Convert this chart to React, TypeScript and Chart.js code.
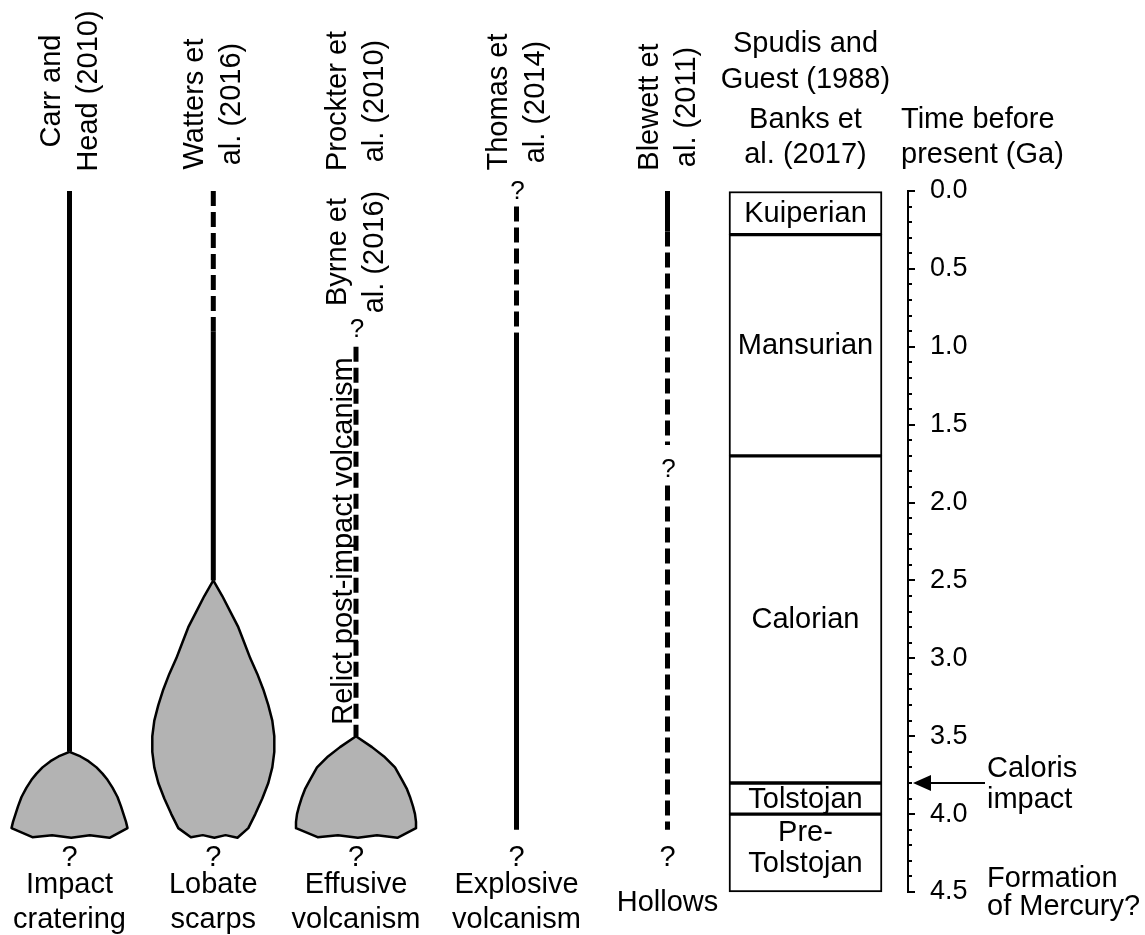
import React, { useEffect, useRef } from 'react';
import { Chart, registerables } from 'chart.js';

Chart.register(...registerables);

// ---------------- data ----------------
const ACTIVITIES = ['Impact\ncratering', 'Lobate\nscarps', 'Effusive\nvolcanism', 'Explosive\nvolcanism', 'Hollows'];
const SOURCES = ['Carr and\nHead (2010)', 'Watters et\nal. (2016)', 'Prockter et\nal. (2010)', 'Thomas et\nal. (2014)', 'Blewett et\nal. (2011)'];
const RELICT_SOURCE = 'Byrne et\nal. (2016)';
const RELICT_LABEL = 'Relict post-impact volcanism';
const STRAT_SOURCES = ['Spudis and\nGuest (1988)', 'Banks et\nal. (2017)'];
const AXIS_TITLE = 'Time before\npresent (Ga)';

const ERAS = ['Kuiperian', 'Mansurian', 'Calorian', 'Tolstojan', 'Pre-\nTolstojan'];
const ERA_START = [0, 0.28, 1.7, 3.8, 4.0];
const ERA_END = [0.28, 1.7, 3.8, 4.0, 4.5];

const TIME_MIN = 0;
const TIME_MAX = 4.5;
const MAJOR_STEP = 0.5;
const MINOR_STEP = 0.1;

// [activity index, from Ga, to Ga]
const SOLID_SEGMENTS: [number, number, number][] = [
  [0, 0, 3.6],
  [1, 0.9, 2.5],
  [3, 0.91, 4.1],
  [4, 0, 0.26],
];
const DASHED_SEGMENTS: [number, number, number][] = [
  [1, 0, 0.9],
  [2, 1.0, 3.5],
  [3, 0.1, 0.91],
  [4, 0.26, 1.63],
  [4, 1.89, 4.1],
];
// [activity index, Ga] for uncertainty marks along the lines
const QUERY_MARKS: [number, number][] = [
  [2, 0.88],
  [3, -0.01],
  [4, 1.78],
];
const END_QUERY_GA = 4.27;

// intensity envelopes: time (Ga) and half-width
const IMPACT_T = [3.6, 3.63, 3.66, 3.7, 3.74, 3.78, 3.83, 3.89, 3.95, 4.0, 4.05, 4.09];
const IMPACT_W = [0, 0.11, 0.19, 0.27, 0.33, 0.38, 0.43, 0.48, 0.515, 0.54, 0.565, 0.58];
const SCARPS_T = [2.5, 2.6, 2.7, 2.8, 2.9, 3.0, 3.1, 3.2, 3.3, 3.4, 3.5, 3.6, 3.7, 3.8, 3.9, 4.0, 4.09];
const SCARPS_W = [0, 0.09, 0.17, 0.25, 0.31, 0.37, 0.44, 0.5, 0.55, 0.59, 0.61, 0.61, 0.59, 0.55, 0.49, 0.42, 0.35];
const EFFUSIVE_T = [3.5, 3.57, 3.63, 3.7, 3.78, 3.84, 3.89, 3.95, 4.0, 4.05, 4.09];
const EFFUSIVE_W = [0, 0.16, 0.28, 0.39, 0.46, 0.51, 0.54, 0.57, 0.59, 0.6, 0.6];

const CALORIS_GA = 3.8;
const EVENT_CALORIS = 'Caloris\nimpact';
const EVENT_FORMATION = 'Formation\nof Mercury?';

// ---------------- layout / style ----------------
const W = 1145;
const H = 935;
const COL_X = [0.695, 2.133, 3.56, 5.165, 6.675];
const STRAT_X = 8.055;
const X_MAX = 9.08;
const WAVE_X = [-1, -0.64, -0.3, 0.03, 0.35, 0.69, 1];
const WAVE_DT = [0, 0.058, 0.045, 0.062, 0.045, 0.062, 0];
const FAMILY = "'Liberation Sans', Arial, Helvetica, sans-serif";
const FS = 29;
const GREY = '#b3b3b3';

function envelope(center: number, ts: number[], ws: number[]) {
  const pts: { x: number; y: number }[] = [];
  for (let i = 0; i < ts.length; i++) pts.push({ x: center - ws[i], y: ts[i] });
  const n = ts.length - 1;
  for (let k = 1; k < WAVE_X.length - 1; k++) pts.push({ x: center + WAVE_X[k] * ws[n], y: ts[n] + WAVE_DT[k] });
  for (let i = n; i >= 0; i--) pts.push({ x: center + ws[i], y: ts[i] });
  return pts;
}

function lines(ctx: CanvasRenderingContext2D, text: string, x: number, y0: number, lh: number) {
  text.split('\n').forEach((ln, i) => ctx.fillText(ln, x, y0 + i * lh));
}

function rotated(ctx: CanvasRenderingContext2D, text: string, cx: number, cy: number, offs: number[]) {
  ctx.save();
  ctx.translate(cx, cy);
  ctx.rotate(-Math.PI / 2);
  ctx.textAlign = 'center';
  ctx.textBaseline = 'alphabetic';
  text.split('\n').forEach((ln, i) => ctx.fillText(ln, 0, offs[i]));
  ctx.restore();
}

const decorPlugin = {
  id: 'decor',
  afterDraw(chart: any) {
    const ctx: CanvasRenderingContext2D = chart.ctx;
    const xs = chart.scales.x;
    const ys = chart.scales.y;
    const X = (v: number) => xs.getPixelForValue(v);
    const Y = (v: number) => ys.getPixelForValue(v);
    ctx.save();
    ctx.fillStyle = '#000';
    ctx.strokeStyle = '#000';

    // axis tick marks (major + minor)
    ctx.lineWidth = 2;
    const nMinor = Math.round((TIME_MAX - TIME_MIN) / MINOR_STEP);
    const per = Math.round(MAJOR_STEP / MINOR_STEP);
    for (let i = 0; i <= nMinor; i++) {
      const y = Math.round(Y(TIME_MIN + i * MINOR_STEP));
      const len = i % per === 0 ? 7 : 4;
      ctx.beginPath();
      ctx.moveTo(ys.left, y);
      ctx.lineTo(ys.left + len, y);
      ctx.stroke();
    }

    ctx.font = `${FS}px ${FAMILY}`;
    ctx.textBaseline = 'alphabetic';

    // era labels inside the column
    const meta = chart.getDatasetMeta(0);
    ctx.textAlign = 'center';
    ctx.textBaseline = 'middle';
    meta.data.forEach((bar: any, i: number) => {
      const cy = (bar.y + bar.base) / 2;
      const parts = ERAS[i].split('\n');
      const lh = 31;
      const y0 = cy - ((parts.length - 1) * lh) / 2 - (parts.length > 1 ? 6 : 0);
      parts.forEach((p, k) => ctx.fillText(p, bar.x, y0 + k * lh + 1));
    });
    ctx.textBaseline = 'alphabetic';

    // column headers above the stratigraphy
    const sx = X(STRAT_X);
    lines(ctx, STRAT_SOURCES[0], sx, 52, 36);
    lines(ctx, STRAT_SOURCES[1], sx, 128, 35);
    ctx.textAlign = 'left';
    lines(ctx, AXIS_TITLE, 901, 128, 35);

    // activity labels under the columns
    ctx.textAlign = 'center';
    ACTIVITIES.forEach((a, i) => {
      const cx = X(COL_X[i]);
      const n = a.split('\n').length;
      lines(ctx, a, cx, n > 1 ? 893 : 911, 35);
      ctx.fillText('?', cx, Y(END_QUERY_GA) + 10);
    });

    // rotated reference labels
    const refCenters = [91, 104, 101, 102, 107];
    SOURCES.forEach((s, i) => rotated(ctx, s, X(COL_X[i]), refCenters[i], [-10, 27]));
    rotated(ctx, RELICT_SOURCE, X(COL_X[2]), 252, [-10, 27]);
    rotated(ctx, RELICT_LABEL, X(COL_X[2]), 541, [-4]);

    // query marks on the lines
    ctx.font = `${FS - 3}px ${FAMILY}`;
    ctx.textAlign = 'center';
    ctx.textBaseline = 'middle';
    QUERY_MARKS.forEach(([c, t]) => ctx.fillText('?', X(COL_X[c]) + 1, Y(t) + 2));
    ctx.textBaseline = 'alphabetic';

    // events on the right
    ctx.font = `${FS}px ${FAMILY}`;
    ctx.textAlign = 'left';
    const cy = Y(CALORIS_GA);
    lines(ctx, EVENT_CALORIS, 987, cy - 6, 31);
    lines(ctx, EVENT_FORMATION, 987, Y(TIME_MAX) - 5, 28);

    // Caloris arrow
    ctx.lineWidth = 2;
    ctx.beginPath();
    ctx.moveTo(928, cy);
    ctx.lineTo(985, cy);
    ctx.stroke();
    ctx.beginPath();
    ctx.moveTo(ys.left + 5, cy);
    ctx.lineTo(ys.left + 23, cy - 8);
    ctx.lineTo(ys.left + 23, cy + 8);
    ctx.closePath();
    ctx.fill();

    ctx.restore();
  },
};

export default function App() {
  const ref = useRef<HTMLCanvasElement>(null);
  useEffect(() => {
    const canvas = ref.current;
    if (!canvas) return;
    const datasets: any[] = [];
    datasets.push({
      type: 'bar',
      label: 'eras',
      data: ERAS.map((_, i) => ({ x: STRAT_X, y: [ERA_START[i], ERA_END[i]] })),
      backgroundColor: '#ffffff',
      borderColor: '#000000',
      borderWidth: 2,
      borderSkipped: false,
      barThickness: 153,
      grouped: false,
      clip: false,
    });
    const blobs: [number, number[], number[]][] = [
      [COL_X[0], IMPACT_T, IMPACT_W],
      [COL_X[1], SCARPS_T, SCARPS_W],
      [COL_X[2], EFFUSIVE_T, EFFUSIVE_W],
    ];
    blobs.forEach(([c, t, w]) =>
      datasets.push({
        type: 'line',
        data: envelope(c, t, w),
        borderColor: '#000',
        borderWidth: 2.5,
        borderJoinStyle: 'round',
        backgroundColor: GREY,
        fill: 'shape',
        pointRadius: 0,
        tension: 0,
        clip: false,
      })
    );
    SOLID_SEGMENTS.forEach(([c, a, b]) =>
      datasets.push({
        type: 'line',
        data: [{ x: COL_X[c], y: a }, { x: COL_X[c], y: b }],
        borderColor: '#000',
        borderWidth: 5,
        borderCapStyle: 'butt',
        pointRadius: 0,
        fill: false,
        clip: false,
      })
    );
    DASHED_SEGMENTS.forEach(([c, a, b]) =>
      datasets.push({
        type: 'line',
        data: [{ x: COL_X[c], y: a }, { x: COL_X[c], y: b }],
        borderColor: '#000',
        borderWidth: 5,
        borderDash: [15, 6],
        borderCapStyle: 'butt',
        pointRadius: 0,
        fill: false,
        clip: false,
      })
    );

    const chart = new Chart(canvas, {
      type: 'line',
      data: { datasets },
      options: {
        responsive: false,
        animation: false,
        devicePixelRatio: 1,
        events: [],
        layout: { padding: { top: 191, bottom: 43, left: 0, right: 0 } },
        plugins: { legend: { display: false }, tooltip: { enabled: false } },
        scales: {
          x: { type: 'linear', min: 0, max: X_MAX, display: false, offset: false },
          y: {
            type: 'linear',
            position: 'right',
            reverse: true,
            min: TIME_MIN,
            max: TIME_MAX,
            grid: { display: true, drawOnChartArea: false, drawTicks: false },
            border: { display: true, width: 2, color: '#000' },
            ticks: {
              stepSize: MAJOR_STEP,
              autoSkip: false,
              padding: 22,
              color: '#000',
              font: { family: FAMILY, size: 27 },
              callback: (v: any) => Number(v).toFixed(1),
            },
            afterFit: (s: any) => {
              s.width = W - 908;
            },
          },
        },
      } as any,
      plugins: [decorPlugin],
    } as any);
    return () => chart.destroy();
  }, []);
  return (
    <div style={{ position: 'absolute', left: 0, top: 0, width: W, height: H, background: '#fff' }}>
      <canvas ref={ref} width={W} height={H} />
    </div>
  );
}
